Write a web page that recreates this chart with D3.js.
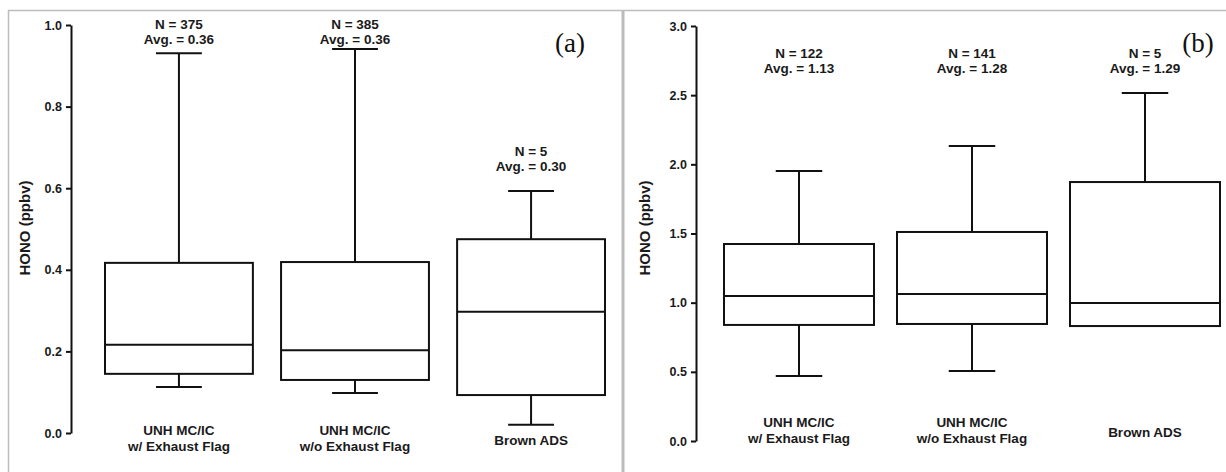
<!DOCTYPE html>
<html>
<head>
<meta charset="utf-8">
<script src="https://cdn.jsdelivr.net/npm/d3@7"></script>
<style>
  html, body { margin: 0; padding: 0; background: #fff; }
  text { font-family: "Liberation Sans", Arial, sans-serif; font-weight: bold; fill: #1a1a1a; }
  .tag { font-family: "Liberation Serif", "Times New Roman", serif; font-weight: normal; fill: #111; }
</style>
</head>
<body>
<div id="chart"></div>
<script>
// categories (one entry per box, split into lines)
const categories = [
  ["UNH MC/IC", "w/ Exhaust Flag"],
  ["UNH MC/IC", "w/o Exhaust Flag"],
  ["Brown ADS"]
];

// panel (a) box stats, ppbv
const aLow = [0.113, 0.098, 0.020];
const aQ1 = [0.145, 0.130, 0.093];
const aMedian = [0.216, 0.203, 0.297];
const aQ3 = [0.417, 0.419, 0.475];
const aHigh = [0.931, 0.941, 0.593];
const aN = [375, 385, 5];
const aAvg = ["0.36", "0.36", "0.30"];
const aTicks = [0, 0.2, 0.4, 0.6, 0.8, 1.0];

// panel (b) box stats, ppbv
const bLow = [0.470, 0.506, 0.831];
const bQ1 = [0.839, 0.846, 0.831];
const bMedian = [1.048, 1.063, 0.998];
const bQ3 = [1.424, 1.511, 1.872];
const bHigh = [1.952, 2.133, 2.516];
const bN = [122, 141, 5];
const bAvg = ["1.13", "1.28", "1.29"];
const bTicks = [0, 0.5, 1.0, 1.5, 2.0, 2.5, 3.0];

const width = 1226;
const height = 472;

const svg = d3.select("#chart")
  .append("svg")
  .attr("width", width)
  .attr("height", height);

svg.append("rect").attr("width", width).attr("height", height).attr("fill", "#fff");

// frame lines
svg.append("line").attr("x1", 8).attr("x2", width).attr("y1", 10.5).attr("y2", 10.5)
  .attr("stroke", "#bdbdbd").attr("stroke-width", 1.5);
svg.append("line").attr("x1", 8.5).attr("x2", 8.5).attr("y1", 10).attr("y2", height)
  .attr("stroke", "#bdbdbd").attr("stroke-width", 1.5);
svg.append("line").attr("x1", 623).attr("x2", 623).attr("y1", 10).attr("y2", height)
  .attr("stroke", "#bbbbbb").attr("stroke-width", 3);

const panels = [
  {
    tag: "(a)", tagX: 570,
    low: aLow, q1: aQ1, med: aMedian, q3: aQ3, high: aHigh, n: aN, avg: aAvg, ticks: aTicks,
    yMax: 1.0, yRange: [433, 25], axisX: 71, titleX: 30,
    xRange: [105, 605], pad: 0.16,
    catY: 435, noteFollow: true, noteTop: 44
  },
  {
    tag: "(b)", tagX: 1198,
    low: bLow, q1: bQ1, med: bMedian, q3: bQ3, high: bHigh, n: bN, avg: bAvg, ticks: bTicks,
    yMax: 3.0, yRange: [441, 26], axisX: 696, titleX: 650,
    xRange: [724, 1220], pad: 0.133,
    catY: 427, noteFollow: false, noteTop: 73
  }
];

panels.forEach(p => {
  const g = svg.append("g");
  const idx = d3.range(categories.length);

  const y = d3.scaleLinear().domain([0, p.yMax]).range(p.yRange);
  const x = d3.scaleBand().domain(idx).range(p.xRange).paddingInner(p.pad).paddingOuter(0);
  const bw = x.bandwidth();
  const cx = i => x(i) + bw / 2;
  const capW = bw * 0.31;

  // y axis
  const axis = g.append("g")
    .attr("transform", `translate(${p.axisX},0)`)
    .call(d3.axisLeft(y).tickValues(p.ticks).tickFormat(d3.format(".1f"))
      .tickSize(5).tickSizeOuter(0).tickPadding(4));
  axis.select(".domain").attr("stroke", "#111").attr("stroke-width", 2);
  axis.selectAll(".tick line").attr("stroke", "#111").attr("stroke-width", 2);
  axis.selectAll(".tick text").style("font-size", "12.5px").attr("fill", "#1a1a1a");

  g.append("text")
    .attr("transform", `translate(${p.titleX},228) rotate(-90)`)
    .attr("text-anchor", "middle")
    .style("font-size", "15px")
    .text("HONO (ppbv)");

  // whiskers
  g.selectAll(".whisker").data(idx).enter().append("line")
    .attr("x1", cx).attr("x2", cx)
    .attr("y1", i => y(p.high[i])).attr("y2", i => y(p.low[i]))
    .attr("stroke", "#111").attr("stroke-width", 2);

  g.selectAll(".capHi").data(idx).enter().append("line")
    .attr("x1", i => cx(i) - capW / 2).attr("x2", i => cx(i) + capW / 2)
    .attr("y1", i => y(p.high[i])).attr("y2", i => y(p.high[i]))
    .attr("stroke", "#111").attr("stroke-width", 2);

  g.selectAll(".capLo").data(idx).enter().append("line")
    .attr("x1", i => cx(i) - capW / 2).attr("x2", i => cx(i) + capW / 2)
    .attr("y1", i => y(p.low[i])).attr("y2", i => y(p.low[i]))
    .attr("stroke", "#111").attr("stroke-width", 2);

  // boxes
  g.selectAll(".box").data(idx).enter().append("rect")
    .attr("x", i => x(i)).attr("width", bw)
    .attr("y", i => y(p.q3[i])).attr("height", i => y(p.q1[i]) - y(p.q3[i]))
    .attr("fill", "#fff").attr("stroke", "#111").attr("stroke-width", 2);

  g.selectAll(".median").data(idx).enter().append("line")
    .attr("x1", i => x(i)).attr("x2", i => x(i) + bw)
    .attr("y1", i => y(p.med[i])).attr("y2", i => y(p.med[i]))
    .attr("stroke", "#111").attr("stroke-width", 2);

  // N / Avg notes
  const avgY = i => p.noteFollow ? Math.max(p.noteTop, y(p.high[i]) - 20) : p.noteTop;
  const notes = g.selectAll(".note").data(idx).enter().append("text")
    .attr("text-anchor", "middle")
    .style("font-size", "13.5px");
  notes.append("tspan").attr("x", cx).attr("y", i => avgY(i) - 15.5).text(i => `N = ${p.n[i]}`);
  notes.append("tspan").attr("x", cx).attr("y", avgY).text(i => `Avg. = ${p.avg[i]}`);

  // category labels
  const cats = g.selectAll(".cat").data(idx).enter().append("text")
    .attr("text-anchor", "middle")
    .style("font-size", "13.5px");
  cats.each(function (i) {
    const lines = categories[i];
    const y0 = lines.length === 1 ? p.catY + 10 : p.catY;
    lines.forEach((s, k) => {
      d3.select(this).append("tspan").attr("x", cx(i)).attr("y", y0 + k * 16).text(s);
    });
  });

  g.append("text").attr("class", "tag")
    .attr("x", p.tagX).attr("y", 52)
    .attr("text-anchor", "middle")
    .style("font-size", "27px")
    .text(p.tag);
});
</script>
</body>
</html>
